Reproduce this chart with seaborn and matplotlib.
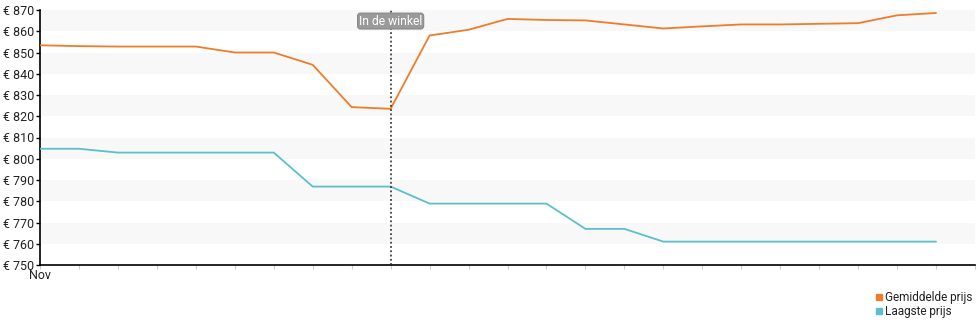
import numpy as np
import pandas as pd
import matplotlib
matplotlib.use("Agg")
import matplotlib.pyplot as plt
from matplotlib.lines import Line2D
import seaborn as sns

days = list(range(24))
gemiddelde = [853.4, 853.0, 852.8, 852.8, 852.8, 850.0, 850.0, 844.2, 824.3, 823.5,
              858.0, 860.7, 865.8, 865.3, 865.1, 863.2, 861.3, 862.3, 863.2, 863.2,
              863.5, 863.8, 867.5, 868.6]
laagste = [804.7, 804.7, 802.9, 802.9, 802.9, 802.9, 802.9, 786.9, 786.9, 786.9,
           778.9, 778.9, 778.9, 778.9, 767.0, 767.0, 761.0, 761.0, 761.0, 761.0,
           761.0, 761.0, 761.0, 761.0]
series_names = ["Gemiddelde prijs", "Laagste prijs"]
y_ticks = [750, 760, 770, 780, 790, 800, 810, 820, 830, 840, 850, 860, 870]
x_label_first = "Nov"
event_day = 9
event_label = "In de winkel"

colors = {"Gemiddelde prijs": "#ee7d2a", "Laagste prijs": "#5bc0c9"}

df = pd.DataFrame({
    "day": days * 2,
    "prijs": gemiddelde + laagste,
    "serie": [series_names[0]] * len(days) + [series_names[1]] * len(days),
})

sns.set_theme(style="white")
plt.rcParams["font.family"] = ["Roboto", "DejaVu Sans"]

fig = plt.figure(figsize=(9.8, 3.25), dpi=100)
ax = fig.add_axes([40 / 980, 1 - 265 / 325, (975 - 40) / 980, (265 - 10) / 325])

# stripes
for lo in range(760, 870, 20):
    ax.axhspan(lo, lo + 10, color="#f8f8f8", lw=0, zorder=0)

sns.lineplot(data=df, x="day", y="prijs", hue="serie", palette=colors,
             ax=ax, legend=False, linewidth=1.3, zorder=3)

ax.set_xlim(0, 24)
ax.set_ylim(750, 870)
ax.set_xlabel("")
ax.set_ylabel("")

ax.set_yticks(y_ticks)
ax.set_yticklabels([f"€ {v}" for v in y_ticks], fontsize=9, color="#222222")
ax.set_xticks(range(25))
ax.set_xticklabels([x_label_first] + [""] * 24, fontsize=9, color="#222222")

for s in ["top", "right"]:
    ax.spines[s].set_visible(False)
for s in ["left", "bottom"]:
    ax.spines[s].set_color("black")
    ax.spines[s].set_linewidth(1.2)

ax.tick_params(axis="y", direction="out", length=3, width=1, color="black", pad=1, left=True)
ax.tick_params(axis="x", direction="out", length=3, width=0.8, color="#cccccc", pad=0, bottom=True)
for lbl in ax.get_xticklabels():
    lbl.set_verticalalignment("top")

# event line
ax.axvline(event_day, color="#222222", linestyle=(0, (1.2, 1.6)), linewidth=1.1, zorder=4)
ax.text(event_day, 864.8, event_label, ha="center", va="center", fontsize=8.7, color="white",
        zorder=5,
        bbox=dict(boxstyle="round,pad=0.12,rounding_size=0.25", fc="#9a9a9a", ec="#888888", lw=0.8))

handles = [Line2D([0], [0], marker="s", linestyle="none", markersize=5,
                  markerfacecolor=colors[n], markeredgecolor=colors[n]) for n in series_names]
fig.legend(handles, series_names, loc="upper right", bbox_to_anchor=(1.001, 0.13),
           frameon=False, fontsize=8.5, handletextpad=0.1, labelspacing=0.1,
           handlelength=0.8, borderpad=0.2, labelcolor="#222222")

fig.savefig("out.png", dpi=100)
